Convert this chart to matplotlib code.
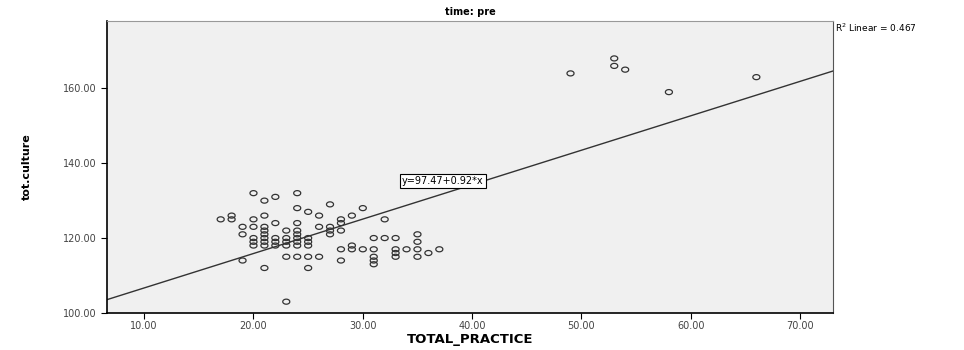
import numpy as np
import matplotlib
matplotlib.use("Agg")
import matplotlib.pyplot as plt
from matplotlib.path import Path

# (approx.)
total_practice = [49, 53, 53, 54, 58, 66, 23,
                  17, 18, 18, 19, 19, 19,
                  20, 20, 20, 20, 20, 20,
                  21, 21, 21, 21, 21, 21, 21, 21, 21,
                  22, 22, 22, 22, 22,
                  23, 23, 23, 23, 23,
                  24, 24, 24, 24, 24, 24, 24, 24, 24,
                  25, 25, 25, 25, 25, 25,
                  26, 26, 26,
                  27, 27, 27, 27,
                  28, 28, 28, 28, 28,
                  29, 29, 29,
                  30, 30,
                  31, 31, 31, 31, 31,
                  32, 32,
                  33, 33, 33, 33,
                  34,
                  35, 35, 35, 35,
                  36, 37]
tot_culture = [164, 168, 166, 165, 159, 163, 103,
               125, 125, 126, 123, 121, 114,
               132, 125, 123, 120, 119, 118,
               130, 126, 123, 121, 120, 119, 118, 112, 122,
               131, 124, 119, 118, 120,
               122, 119, 118, 115, 120,
               132, 128, 124, 122, 120, 119, 118, 115, 121,
               127, 120, 119, 118, 115, 112,
               126, 123, 115,
               129, 123, 121, 122,
               125, 124, 122, 117, 114,
               126, 117, 118,
               128, 117,
               120, 117, 115, 114, 113,
               125, 120,
               120, 117, 116, 115,
               117,
               121, 119, 115, 117,
               116, 117]

intercept = 97.47
slope = 0.92
r2 = 0.467

x_ticks = [10, 20, 30, 40, 50, 60, 70]
y_ticks = [100, 120, 140, 160]

fig = plt.figure(figsize=(9.64, 3.5), dpi=100)
ax = fig.add_axes([0.111, 0.106, 0.753, 0.834])
ax.set_facecolor("#f0f0f0")

# slightly wide ellipse marker like the stretched spss output
t = np.linspace(0, 2 * np.pi, 30)
ell = Path(np.column_stack([1.4 * np.cos(t), np.sin(t)]))
ax.scatter(total_practice, tot_culture, marker=ell, s=26, facecolors="none",
           edgecolors="#333333", linewidths=0.9, zorder=3)

xl = np.array([6.6, 73.0])
ax.plot(xl, np.polyval([slope, intercept], xl), color="#333333", lw=1.0, zorder=2)

ax.set_xlim(6.6, 73.0)
ax.set_ylim(100, 178)
ax.set_xticks(x_ticks)
ax.set_xticklabels([f"{v:.2f}" for v in x_ticks])
ax.set_yticks(y_ticks)
ax.set_yticklabels([f"{v:.2f}" for v in y_ticks])
ax.tick_params(labelsize=7, labelcolor="#444444", length=4, width=0.8)
ax.tick_params(axis="x", pad=2)

for s in ["left", "bottom"]:
    ax.spines[s].set_linewidth(1.2)
ax.spines["top"].set_color("#999999")
ax.spines["right"].set_color("#555555")

ax.set_xlabel("TOTAL_PRACTICE", fontsize=9.5, fontweight="bold", labelpad=1)
ax.set_ylabel("tot.culture", fontsize=8, fontweight="bold", labelpad=22)
ax.set_title("time: pre", fontsize=7, fontweight="bold", pad=4)

ax.text(33.6, 135.3, f"y={intercept}+{slope}*x", fontsize=7, ha="left", va="center",
        bbox=dict(facecolor="white", edgecolor="black", linewidth=0.8, pad=1.5), zorder=4)

fig.text(0.866, 0.92, f"R$^2$ Linear = {r2}", fontsize=6.5, ha="left", va="center")

fig.savefig("out.png", dpi=100)
